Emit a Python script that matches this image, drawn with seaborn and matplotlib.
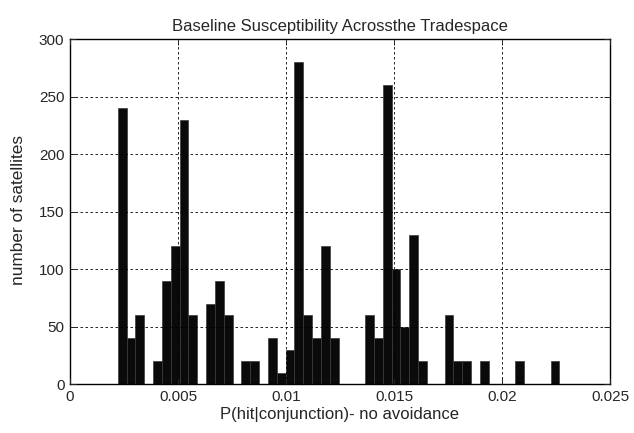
import numpy as np
import pandas as pd
import matplotlib
matplotlib.use("Agg")
import matplotlib.pyplot as plt
import seaborn as sns

# Histogram: 50 equal bins between these limits
bin_lo = 0.002208
bin_hi = 0.02266
n_bins = 50
counts = [240, 40, 60, 0, 20, 90, 120, 230, 60, 0,
          70, 90, 60, 0, 20, 20, 0, 40, 10, 30,
          280, 60, 40, 120, 40, 0, 0, 0, 60, 40,
          260, 100, 50, 130, 20, 0, 0, 60, 20, 20,
          0, 20, 0, 0, 0, 20, 0, 0, 0, 20]
xticks = [0, 0.005, 0.01, 0.015, 0.02, 0.025]
xticklabels = ["0", "0.005", "0.01", "0.015", "0.02", "0.025"]
yticks = [0, 50, 100, 150, 200, 250, 300]

edges = np.linspace(bin_lo, bin_hi, n_bins + 1)
centers = (edges[:-1] + edges[1:]) / 2
df = pd.DataFrame({"p": centers, "n": np.array(counts, dtype=float)})

sns.set_style("white")
plt.rcParams["font.family"] = ["Liberation Sans", "DejaVu Sans"]

fig = plt.figure(figsize=(6.34, 4.33), dpi=100)
ax = fig.add_axes([70 / 634, 1 - 384.3 / 433, 540 / 634, 345 / 433])

sns.histplot(data=df, x="p", weights="n", bins=n_bins, binrange=(bin_lo, bin_hi),
             ax=ax, color="#0a0a0a", alpha=1, edgecolor="#3a3a3a", linewidth=0.5)

ax.set_xlim(0, 0.025)
ax.set_ylim(0, 300)
ax.set_xticks(xticks)
ax.set_xticklabels(xticklabels)
ax.set_yticks(yticks)
ax.grid(True, color="black", linestyle=(0, (3, 3)), linewidth=0.6)
ax.set_axisbelow(False)
for s in ax.spines.values():
    s.set_visible(True)
    s.set_color("black")
    s.set_linewidth(1.0)
ax.tick_params(direction="in", length=4, width=0.7, labelsize=11,
               top=True, right=True, bottom=True, left=True, pad=4)
ax.set_title("Baseline Susceptibility Acrossthe Tradespace", fontsize=12, pad=6)
ax.set_xlabel("P(hit|conjunction)- no avoidance", fontsize=12, labelpad=2)
ax.set_ylabel("number of satellites", fontsize=12.4)
ax.yaxis.set_label_coords(-0.082, 0.505)

fig.savefig("out.png", dpi=100)
